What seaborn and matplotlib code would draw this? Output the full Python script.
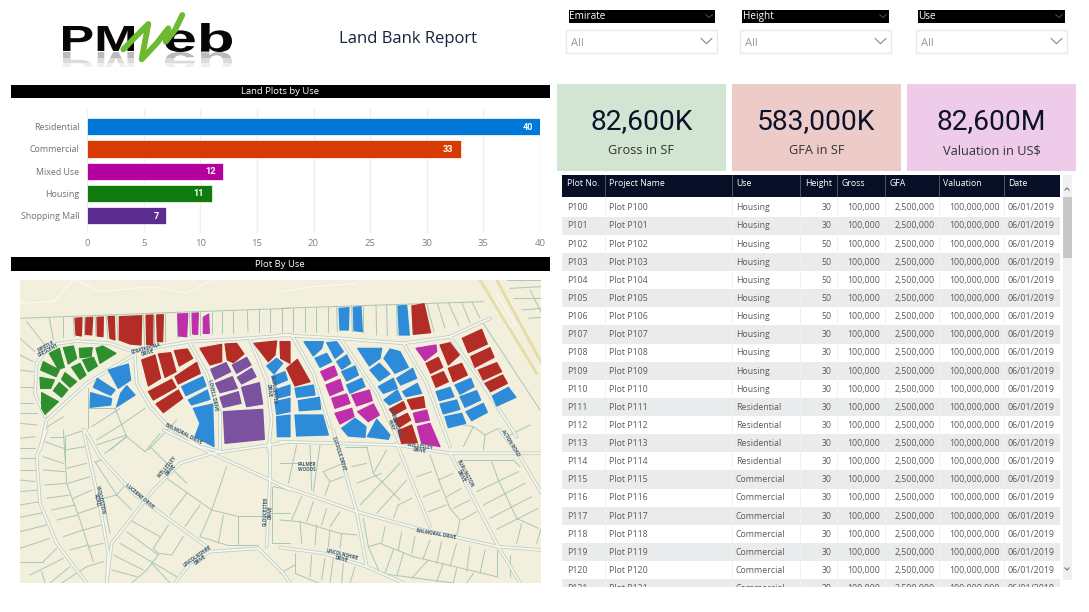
import matplotlib
matplotlib.use("Agg")
import matplotlib.pyplot as plt
import pandas as pd
import seaborn as sns
from matplotlib.patches import Rectangle, Polygon, PathPatch
from matplotlib.textpath import TextPath
from matplotlib.font_manager import FontProperties
from matplotlib.transforms import Affine2D

# ---------- data ----------
uses = ["Residential", "Commercial", "Mixed Use", "Housing", "Shopping Mall"]
plots = [40, 33, 12, 11, 7]
use_colors = ["#0078D7", "#D83B01", "#B4009E", "#107C10", "#5C2D91"]
x_ticks = [0, 5, 10, 15, 20, 25, 30, 35, 40]

kpi_values = ["82,600K", "583,000K", "82,600M"]
kpi_labels = ["Gross in SF", "GFA in SF", "Valuation in US$"]
kpi_colors = ["#D1E5D2", "#ECCBC9", "#EFCBEA"]

slicer_names = ["Emirate", "Height", "Use"]

table_head = ["Plot No.", "Project Name", "Use", "Height", "Gross", "GFA", "Valuation", "Date"]
plot_ids = [f"P{n}" for n in range(100, 122)]
row_use = ["Housing"] * 11 + ["Residential"] * 4 + ["Commercial"] * 7
row_height = [30, 30, 50, 50, 50, 50, 50, 30, 30, 30, 30] + [30] * 11
row_gross = "100,000"
row_gfa = "2,500,000"
row_val = "100,000,000"
row_date = "06/01/2019"

# ---------- map artwork (traced outlines, given in crop coordinates) ----------
Z4 = (20, 280); Z5 = (280, 280); Z7 = (20, 430); Z8 = (280, 430)
C_RED, C_MAG, C_GRN, C_BLU, C_PUR = "#B32D26", "#BE2FA9", "#2F8F2F", "#2E8BD8", "#7A52A0"

blocks = [
 (Z4, C_RED, [(165,115,186,113,184,168,168,165),(198,113,218,112,215,165,197,163),(231,112,250,111,249,170,232,168),
   (264,110,283,109,285,180,270,175),(298,110,365,107,363,195,330,192,298,180),(378,106,399,105,398,195,380,193),
   (410,105,430,104,428,185,412,185),(365,240,405,225,422,295,385,318),(415,222,452,218,468,275,435,292),
   (463,212,502,207,518,235,478,258),(465,290,530,247,541,280,475,312),(385,335,455,298,468,322,400,360),
   (408,372,475,330,488,355,430,398),(540,205,605,193,605,245,570,255),(615,192,650,190,672,222,640,248,622,240),
   (702,190,770,183,765,225,745,245),(780,185,810,185,810,250,782,235)]),
 (Z4, C_MAG, [(473,102,503,101,500,170,476,168),(516,100,535,99,533,163,518,162),(550,112,566,102,568,160,550,160)]),
 (Z4, C_GRN, [(130,203,160,198,170,235,145,252),(88,220,118,205,133,262,115,268),(178,205,217,203,213,230,180,233),
   (228,205,248,198,288,220,240,250),(70,245,118,270,108,290,62,270),(188,240,220,232,232,258,205,275),
   (155,262,180,250,198,285,180,298),(135,278,170,305,150,322,125,298),(60,292,103,300,92,325,62,325),
   (118,308,143,330,125,352,100,332),(65,338,115,365,75,403,65,385)]),
 (Z4, C_BLU, [(265,270,325,252,332,300,295,325),(232,295,285,330,272,346,220,322),(302,340,320,317,345,345,290,380),
   (212,338,275,356,272,375,210,382),(485,320,548,290,558,318,498,347),(505,360,562,330,570,358,515,375),
   (520,385,578,372,582,500,525,470,540,430),(740,258,770,235,788,250,762,282),(755,290,795,275,802,300,765,315),
   (765,330,810,315,810,345,770,355),(765,365,810,355,810,395,770,403),(770,410,810,405,810,470,772,470)]),
 (Z4, C_PUR, [(572,268,618,248,632,275,585,298),(637,255,680,232,693,255,650,280),(652,292,695,265,708,290,665,312),
   (587,310,637,290,652,325,600,338),(600,352,655,335,663,370,610,382),(665,322,718,308,728,372,680,380),
   (610,395,728,388,733,478,615,490)]),
 (Z5, C_BLU, [(177,85,207,83,205,150,180,150),(220,82,243,80,247,155,222,152),(354,78,380,76,388,165,358,165),
   (45,325,100,315,105,345,50,352),(55,362,118,352,122,388,58,392),(45,405,128,405,145,465,50,468),
   (72,185,130,185,125,205,100,228),(140,188,170,185,190,215,165,235),(105,235,140,220,155,245,120,262),
   (170,245,200,225,212,250,185,268),(185,275,225,258,235,285,200,303),(200,315,245,295,255,320,210,340),
   (185,445,225,415,258,440,255,472,205,468),(262,470,290,418,330,465,325,478),(233,205,305,205,300,235,268,258),
   (312,235,330,207,360,215,385,262,345,280),(270,270,298,250,330,282,298,303),(295,320,340,295,352,325,310,340),
   (312,360,352,330,365,358,328,375),(350,295,398,265,410,295,362,315),(368,335,412,310,425,340,378,350),
   (525,315,572,295,582,320,540,343),(468,335,510,322,522,350,478,362),(540,350,590,332,602,360,555,382),
   (480,372,530,360,540,388,490,402),(495,410,545,400,557,430,505,443),(558,395,610,370,622,397,575,422),
   (637,348,685,322,708,352,650,378)]),
 (Z5, C_RED, [(396,78,432,71,452,158,400,163),(20,265,52,238,90,305,45,318),(328,388,370,365,378,385,342,405),
   (382,360,430,350,435,382,395,388),(342,420,382,400,392,420,358,442),(355,452,395,435,412,488,365,490),
   (480,195,510,188,538,225,505,255),(438,250,475,232,488,262,452,280),(455,290,490,275,505,305,468,322),
   (505,265,545,250,562,285,520,305),(547,175,605,148,622,192,565,218),(572,230,630,203,642,232,585,262),
   (595,270,650,248,665,275,610,300),(615,310,668,285,682,310,632,335)]),
 (Z5, C_MAG, [(122,275,162,258,172,285,135,302),(138,315,180,298,190,330,150,347),(155,355,200,342,210,370,165,385),
   (165,400,215,385,222,410,180,432),(215,345,268,330,277,362,230,378),(233,395,280,372,298,405,265,425),
   (400,400,440,390,448,420,408,428),(412,440,450,430,480,500,425,490),(408,205,468,195,470,215,435,242)]),
]

roads = [
 (Z4, (75,410,45,340,50,250,90,195,170,183,270,190,340,215,420,200,510,185,680,175,810,165)),
 (Z5, (0,165,180,175,370,190,510,170,630,115)),
 (Z4, (60,510,80,420,200,310,340,225)),
 (Z4, (345,225,350,310,390,380,440,435,540,500,600,515)),
 (Z7, (430,0,575,70,750,150,810,180)),
 (Z8, (0,165,230,245,410,295,655,350,785,360)),
 (Z4, (510,190,560,280,600,400,600,510)),
 (Z4, (690,180,740,300,755,420,745,510)),
 (Z7, (750,40,750,150,740,350)),
 (Z7, (260,459,275,340,400,180,480,100,575,70,750,45,810,35)),
 (Z8, (0,35,350,45,510,70,785,70)),
 (Z7, (195,0,240,80,340,190,450,270,560,350)),
 (Z7, (190,0,240,230,265,370,260,459)),
 (Z7, (80,0,50,80,60,220,110,340,200,459)),
 (Z7, (465,459,510,400,570,365,715,355,790,430,810,459)),
 (Z8, (0,352,130,370,260,410,370,459)),
 (Z5, (35,165,100,280,150,440)),
 (Z8, (160,0,230,245,260,410)),
 (Z5, (185,180,290,340,360,490)),
 (Z8, (350,40,450,290)),
 (Z5, (370,190,440,310,510,500)),
 (Z8, (510,70,655,350,720,459)),
 (Z5, (510,170,600,300,710,470)),
 (Z8, (660,0,720,80,785,190)),
]
highway = [(Z5, (600,0,770,280)), (Z5, (650,0,785,250))]
faint = [(Z4, (0,70,100,65,160,0)), (Z4, (170,0,240,35,400,20,500,40,580,0)), (Z5, (0,35,100,20,230,10)),
         (Z5, (640,50,690,140,705,130,650,40))]

lot_lines = {
 Z4: [(0,115,470,97,810,85),(88,113,100,180),(128,112,128,170),(160,110,163,170),(192,110,192,165),(225,108,228,170),
      (258,107,264,175),(290,107,294,180),(370,104,374,195),(403,104,403,190),(435,100,435,185),(470,98,470,170),
      (508,98,512,168),(540,97,540,165),(575,95,575,162),(607,93,607,160),(640,92,640,158),(682,90,684,155),
      (717,88,717,155),(750,87,750,155),(787,85,787,155),(20,125,75,195),(0,175,45,215),(0,225,40,245),(0,270,40,275),
      (0,320,40,320),(0,370,40,370),(0,400,50,400),(0,430,50,435),(205,325,205,445),(205,385,285,385),(285,385,345,345),
      (285,385,320,470),(215,440,300,385),(230,480,310,430),(310,430,375,385),(270,510,320,470),(385,510,470,420),
      (75,445,130,410),(90,470,130,470)],
 Z5: [(0,85,610,65),(40,85,40,155),(75,85,75,155),(108,83,108,155),(143,82,143,155),(170,82,172,155),(215,80,217,155),
      (250,78,250,158),(288,76,290,165),(320,74,322,168),(350,74,352,168),(395,72,400,163),(440,70,462,155),
      (472,70,495,145),(505,68,537,138),(545,67,570,128),(575,65,600,115),(610,130,780,390),(525,430,580,440),
      (580,440,615,465),(615,465,655,445),(615,465,610,510),(550,500,580,440),(690,465,750,435),(680,0,785,0),
      (690,25,785,20),(700,55,785,55),(725,90,785,85),(745,115,785,112),(750,30,785,100)],
 Z7: [(75,35,130,55),(70,80,130,100),(70,120,135,125),(75,165,140,160),(80,205,150,195),(95,240,165,225),(110,270,175,255),
      (130,320,190,300),(150,360,205,345),(135,20,135,100),(130,0,140,160),(140,160,180,270),(180,270,220,395),
      (135,20,195,0),(135,60,195,50),(140,115,200,100),(145,160,210,140),(160,205,215,180),(175,250,235,230),
      (190,300,245,285),(205,350,250,340),(0,25,45,20),(0,55,45,55),(0,85,45,85),(0,120,50,120),(0,150,45,155),
      (0,185,55,180),(0,225,60,215),(0,262,70,248),(0,305,80,285),(0,355,90,325),(0,395,70,395),(70,395,110,355),
      (30,435,130,385),(65,425,75,459),(90,459,150,410),(125,459,200,410),(200,410,250,395),(230,45,320,15),
      (255,70,320,20),(320,20,375,65),(375,65,420,10),(390,50,500,160),(225,95,290,195),(250,205,290,195),
      (290,195,335,240),(290,195,315,165),(225,95,250,90),(250,205,270,310),(330,270,420,320),(320,305,415,375),
      (300,340,470,440),(280,375,370,420),(275,420,350,440),(445,285,400,355),(490,320,455,375),(415,370,455,375),
      (400,355,415,370),(415,375,380,420),(380,420,335,459),(395,400,450,459),(440,145,575,240),(575,240,650,258),
      (650,258,740,258),(620,110,575,240),(500,190,450,255),(540,225,495,290),(575,240,540,320),(610,255,595,340),
      (653,258,653,345),(540,320,620,345),(620,345,715,345),(625,95,745,150),(760,170,810,180),(760,250,810,250),
      (755,340,810,340),(755,170,755,340)],
 Z8: [(0,98,50,98),(50,45,25,160),(90,45,95,180),(120,45,100,185),(130,125,150,155),(150,155,135,195),(150,155,190,140),
      (130,125,190,100),(195,50,260,50),(260,50,280,130),(320,60,280,130),(215,110,260,100),(230,160,305,130),
      (280,130,360,210),(360,100,240,225),(380,150,290,250),(355,225,340,265),(395,205,355,225),(65,200,35,270),
      (100,215,80,275),(140,235,125,285),(180,245,150,290),(0,270,60,275),(60,275,180,310),(180,310,230,315),
      (60,275,65,340),(110,285,105,345),(150,300,145,350),(185,310,180,355),(250,265,265,350),(265,350,300,340),
      (300,340,400,380),(400,380,650,440),(265,350,300,430),(300,430,520,459),(315,290,305,340),(365,305,355,360),
      (405,320,395,370),(450,330,430,385),(485,335,470,400),(530,340,510,410),(570,350,560,425),(615,360,600,430),
      (650,360,650,440),(340,360,315,430),(370,370,350,440),(445,390,395,445),(490,400,470,455),(530,415,520,459),
      (580,430,560,459),(45,370,45,425),(95,375,90,440),(135,385,125,450),(160,385,150,459),(190,400,185,459),
      (225,410,210,459),(0,430,45,405),(45,430,115,459),(450,75,480,160),(480,160,510,235),(510,235,540,270),
      (540,270,530,320),(410,140,455,125),(430,200,480,180),(445,245,500,225),(475,150,520,130),(500,200,545,175),
      (520,235,570,210),(545,270,590,245),(540,90,700,90),(700,90,720,110),(635,95,655,150),(655,150,710,265),
      (710,265,775,295),(590,185,715,125),(610,225,735,160),(630,265,755,200),(650,298,775,235),(725,280,710,340),
      (785,290,770,340),(690,375,690,440)],
}

map_labels = [
 (Z4, 82, 205, "MYRTLE\nCRESCENT", 28), (Z4, 380, 212, "STRATADONA\nDRIVE", 15), (Z4, 490, 460, "BALMORAL DRIVE", -27),
 (Z4, 578, 345, "LOVELL DRIVE", -78), (Z4, 752, 330, "GLOUCESTER\nDRIVE", -85), (Z7, 447, 115, "WELLESLEY\nDRIVE", 50),
 (Z7, 360, 200, "LUCERNE DRIVE", -40), (Z7, 235, 210, "WOODSTEIN\nROAD", -78), (Z7, 745, 245, "GLOUCESTER\nDRIVE", 88),
 (Z7, 537, 385, "LINCOLNSHIRE\nDRIVE", 35), (Z8, 80, 110, "PALMER\nWOODS", 0), (Z8, 178, 70, "SUFFOLK DRIVE", -72),
 (Z8, 420, 55, "WELLESLEY\nDRIVE", -8), (Z8, 550, 135, "BURLINGTON\nDRIVE", -62), (Z8, 468, 312, "BALMORAL DRIVE", -10),
 (Z8, 185, 380, "LINCOLNSHIRE\nDRIVE", -14), (Z8, 690, 40, "ACTON ROAD", -58), (Z5, 340, 430, "CUMBERLAND\nWAY", -72),
]

# ---------- figure ----------
sns.set_theme(style="white")
plt.rcParams["font.family"] = ["Open Sans", "DejaVu Sans"]
fig = plt.figure(figsize=(10.89, 6.12), dpi=100, facecolor="white")
bg = fig.add_axes([0, 0, 1, 1], zorder=1)
bg.set_xlim(0, 1089); bg.set_ylim(612, 0); bg.axis("off")


def box(x0, y0, x1, y1, color, z=2, **kw):
    return bg.add_patch(Rectangle((x0, y0), x1 - x0, y1 - y0, facecolor=color, edgecolor="none", zorder=z, **kw))


def txt(x, y, s, size, color="#444444", ha="left", va="center", **kw):
    return bg.text(x, y, s, fontsize=size, color=color, ha=ha, va=va, zorder=kw.pop("zorder", 6), **kw)


def chevron(cx, cy, w, h, color, lw=0.8, up=False):
    s = -1 if up else 1
    bg.plot([cx - w, cx, cx + w], [cy - s * h, cy + s * h, cy - s * h], color=color, lw=lw, zorder=7)


def pts(origin, seq, scale=3.0):
    return [(origin[0] + seq[i] / scale, origin[1] + seq[i + 1] / scale) for i in range(0, len(seq), 2)]


# ---- logo ----
def fit_text(s, x0, y0, x1, y1, flip=False, **pk):
    fp = FontProperties(family="Liberation Sans", weight="bold")
    tp = TextPath((0, 0), s, size=10, prop=fp)
    bb = tp.get_extents()
    sx = (x1 - x0) / bb.width
    sy = (y1 - y0) / bb.height
    if flip:
        tr = Affine2D().translate(-bb.x0, -bb.y0).scale(sx, sy).translate(x0, y0)
    else:
        tr = Affine2D().translate(-bb.x0, -bb.y0).scale(sx, -sy).translate(x0, y1)
    return bg.add_patch(PathPatch(tr.transform_path(tp), lw=0, transform=bg.transData, **pk))


fit_text("PM", 63, 26, 134, 51, facecolor="#060606", edgecolor="none", zorder=3)
fit_text("eb", 165, 23, 232, 52, facecolor="#060606", edgecolor="none", zorder=3)
for lo, hi, a in [(52, 58, 0.30), (58, 63, 0.16), (63, 67, 0.07)]:
    cp = Rectangle((0, lo), 400, hi - lo, transform=bg.transData)
    for s, x0, x1, y0, y1 in [("PM", 63, 134, 52, 74), ("eb", 165, 232, 52, 78)]:
        p = fit_text(s, x0, y0, x1, y1, flip=True, facecolor="#202020", alpha=a, zorder=3)
        p.set_clip_path(cp)
w_x, w_y = zip(*pts((0, 0), (370,148,405,112,445,72,436,120,425,178,470,130,505,85,497,125,525,90,547,45)))
bg.plot(w_x, w_y, color="#6DB92F", lw=4.2, zorder=4, solid_joinstyle="round")

txt(408, 39, "Land Bank Report", 12, color="#16233B", ha="center")

# ---- slicers ----
slic = [(568.5, 715, 566, 717), (742, 889, 740, 891), (918, 1065, 916, 1067)]
for name, (a, b, c, d) in zip(slicer_names, slic):
    box(a, 9.5, b, 23, "black")
    txt(a + 0.5, 16.5, name, 7.2, color="white")
    chevron(b - 6, 16, 3.5, 1.7, "#444444")
    bg.add_patch(Rectangle((c, 29.5), d - c, 23, facecolor="white", edgecolor="#E8E8E8", lw=1, zorder=2))
    txt(c + 5, 43.5, "All", 8, color="#999999")
    chevron(d - 10.5, 41, 5.5, 2.7, "#888888")

# ---- section headers ----
for y0, y1, title in [(84.5, 98, "Land Plots by Use"), (257, 271, "Plot By Use")]:
    box(11, y0, 550, y1, "black")
    txt(280, (y0 + y1) / 2 + 0.2, title, 6.8, color="white", ha="center", fontweight="medium")

# ---- KPI cards ----
cards = [(557, 726), (732, 901), (907, 1076)]
for (a, b), v, l, c in zip(cards, kpi_values, kpi_labels, kpi_colors):
    box(a, 84, b, 171, c)
    txt((a + b) / 2, 121.5, v, 20.3, color="#0B1229", ha="center", family="Roboto")
    txt((a + b) / 2, 151, l, 9.2, color="#333333", ha="center")

# ---- table ----
col_edges = [562, 604.5, 731.5, 800, 836.5, 884.5, 939, 1004, 1060]
clip = Rectangle((555, 170), 520, 417, transform=bg.transData)
box(562, 175, 1060, 197, "#070F26")
head_x = [567, 609, 736, 805, 841, 889, 943, 1008]
for hx, h in zip(head_x, table_head):
    ha = "left"
    if h == "Height":
        hx = 832; ha = "right"
    txt(hx, 184, h, 6.3, color="white", ha=ha, fontweight="medium")
for e in col_edges[1:-1]:
    bg.plot([e, e], [175, 197], color="#5A6070", lw=0.6, zorder=3)

row_h = 18.13
first = 198.5
for i, pid in enumerate(plot_ids):
    top = first + i * row_h
    if i % 2 == 1:
        b = box(562, top, 1060, top + row_h, "#EAEBED")
        b.set_clip_path(clip)
    mid = top + row_h / 2 + 0.3
    cells = [pid, f"Plot {pid}", row_use[i], str(row_height[i]), row_gross, row_gfa, row_val, row_date]
    rights = [None, None, None, 832, 880.5, 935, 1000, None]
    for j, cell in enumerate(cells):
        if rights[j] is None:
            t = txt(head_x[j], mid, cell, 6.3, color="#5A5A5A", clip_on=True)
        else:
            t = txt(rights[j], mid, cell, 6.3, color="#5A5A5A", ha="right", clip_on=True)
        t.set_clip_path(clip)
for e in col_edges[1:-1]:
    bg.plot([e, e], [197, 587], color="#F1F1F1", lw=0.7, zorder=3)

# ---- scrollbar ----
box(1063, 175, 1071.5, 580, "#F0F0F0")
box(1063, 197, 1071.5, 258, "#C8C8C8")
chevron(1067, 189, 2.2, 1.2, "#777777", up=True)
chevron(1067, 569, 2.2, 1.2, "#777777")

# ---- map ----
map_clip = Rectangle((20, 280), 521, 303, transform=bg.transData)
box(20, 280, 541, 583, "#F3EFDD", z=1.5)


def cplot(xy, z, **kw):
    x, y = zip(*xy)
    ln, = bg.plot(x, y, zorder=z, solid_capstyle="round", **kw)
    ln.set_clip_path(map_clip)


for org, seq in faint:
    cplot(pts(org, seq), 1.6, color="#FBFAF3", lw=0.8)
for org, segs in lot_lines.items():
    for seq in segs:
        cplot(pts(org, seq), 1.7, color="#A9C6B6", lw=0.7)
for org, seq in roads:
    cplot(pts(org, seq), 1.8, color="#BFD0C3", lw=2.5)
for org, seq in roads:
    cplot(pts(org, seq), 1.85, color="#F8F7F0", lw=1.3)
for org, seq in highway:
    cplot(pts(org, seq), 1.8, color="#C9CDB0", lw=1.7)
    cplot(pts(org, seq), 1.85, color="#F1DF96", lw=1.2)
for org, color, shapes in blocks:
    for seq in shapes:
        pg = bg.add_patch(Polygon(pts(org, seq), closed=True, facecolor=color, edgecolor=color, lw=0.9,
                                  joinstyle="round", zorder=2))
        pg.set_clip_path(map_clip)
for org, x, y, s, rot in map_labels:
    t = txt(org[0] + x / 3, org[1] + y / 3, s, 3.3, color="#3E5A6E", ha="center", rotation=rot,
            rotation_mode="anchor", fontweight="bold", linespacing=0.95, zorder=2.5, clip_on=True)
    t.set_clip_path(map_clip)

# ---- bar chart ----
df = pd.DataFrame({"use": uses, "plots": plots})
ax = fig.add_axes([87 / 1089, 1 - 233 / 612, (540 - 87) / 1089, (233 - 109) / 612], zorder=3)
ax.patch.set_alpha(0)
sns.barplot(data=df, y="use", x="plots", hue="use", palette=use_colors, order=uses, hue_order=uses,
            dodge=False, legend=False, width=0.77, saturation=1, ax=ax)
for c in ax.containers:
    for r in c:
        r.set_edgecolor("white"); r.set_linewidth(0.5); r.set_zorder(3)
ax.set_xlim(0, 40)
ax.set_ylim(4.78, -0.80)
ax.set_xticks(x_ticks)
ax.set_xlabel(""); ax.set_ylabel("")
ax.xaxis.grid(True, color="#EFEFEF", lw=1); ax.yaxis.grid(False)
ax.set_axisbelow(True)
sns.despine(ax=ax, left=True, bottom=True, top=True, right=True)
ax.tick_params(axis="x", length=0, pad=4, labelsize=6.8, labelcolor="#808080")
ax.tick_params(axis="y", length=0, pad=5.5, labelsize=6.4, labelcolor="#707070")
for i, v in enumerate(plots):
    ax.text(v - 0.65, i + 0.02, str(v), color="white", ha="right", va="center", fontsize=6.6,
            fontweight="bold", family="Roboto", zorder=5)

fig.savefig("out.png", dpi=100, facecolor="white")
